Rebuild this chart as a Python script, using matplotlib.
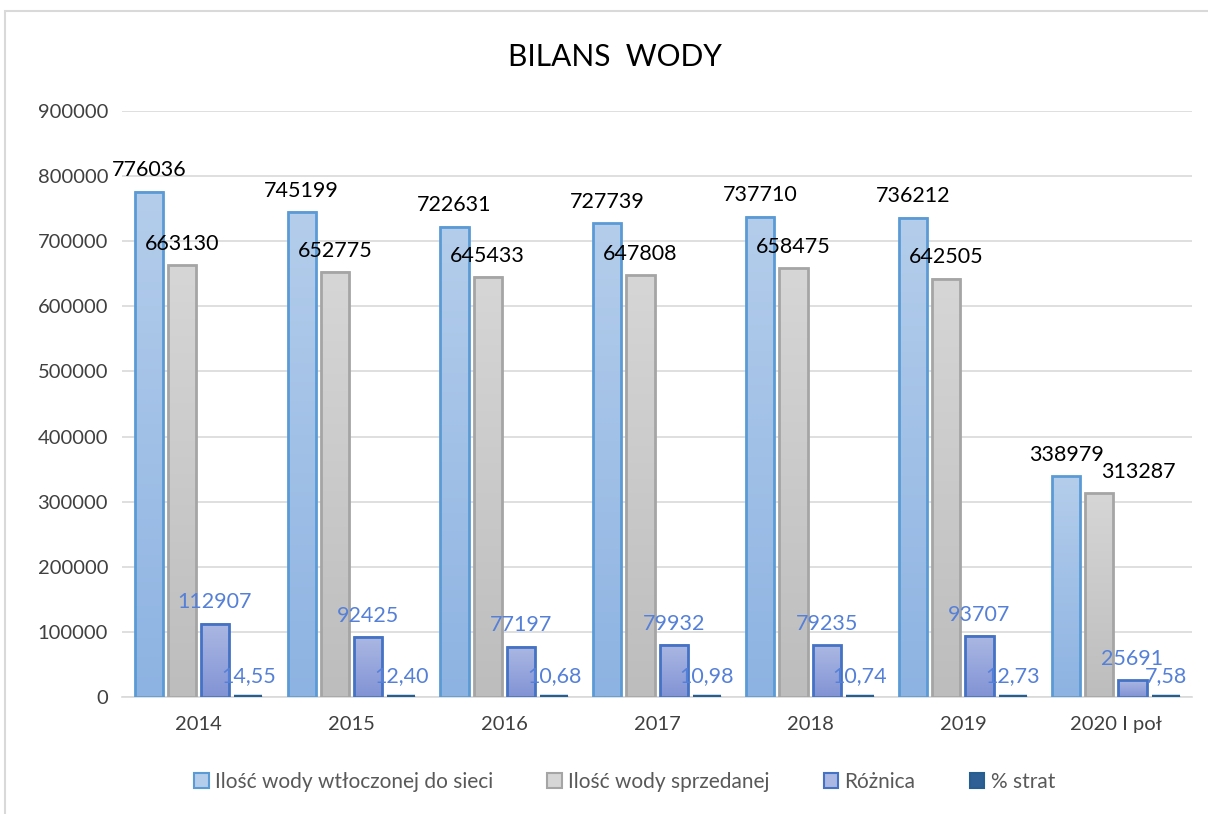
import numpy as np
import matplotlib
matplotlib.use("Agg")
import matplotlib.pyplot as plt
from matplotlib.colors import LinearSegmentedColormap
from matplotlib.patches import Patch, Rectangle

plt.rcParams['font.family'] = ['Lato', 'DejaVu Sans']

categories = ['2014', '2015', '2016', '2017', '2018', '2019', '2020 I poł']
wtloczona = [776036, 745199, 722631, 727739, 737710, 736212, 338979]
sprzedana = [663130, 652775, 645433, 647808, 658475, 642505, 313287]
roznica = [112907, 92425, 77197, 79932, 79235, 93707, 25691]
straty = [14.55, 12.40, 10.68, 10.98, 10.74, 12.73, 7.58]
straty_txt = ['14,55', '12,40', '10,68', '10,98', '10,74', '12,73', '7,58']

series = [
    ('Ilość wody wtłoczonej do sieci', wtloczona, '#B4CDEB', '#8DB3E2', '#5B9BD5', '#000000'),
    ('Ilość wody sprzedanej', sprzedana, '#D6D6D6', '#BDBDBD', '#A5A5A5', '#000000'),
    ('Różnica', roznica, '#ABB8E3', '#8293D5', '#4472C4', '#5580D8'),
    ('% strat', straty, '#5B84B8', '#2E5F95', '#255E91', '#5580D8'),
]

fig = plt.figure(figsize=(12.08, 8.14), dpi=100)
ax = fig.add_axes([0.101, 0.1437, 0.886, 0.7199])

# chart frame (only top/left visible in the reference)
fig.patches.append(Rectangle((5 / 1208, -0.1), 1.2, 1 - 11 / 814 + 0.1, transform=fig.transFigure,
                             fill=False, edgecolor='#D9D9D9', linewidth=1.5))

x = np.arange(len(categories))
step = 0.217
width = 0.184
handles = []
for i, (name, vals, ctop, cbot, edge, lcol) in enumerate(series):
    pos = x + (i - 1.5) * step
    lw = 3.2 if name == '% strat' else 2
    bars = ax.bar(pos, vals, width, facecolor='none', edgecolor=edge, linewidth=lw, zorder=3)
    cmap = LinearSegmentedColormap.from_list('g%d' % i, [cbot, ctop])
    for b in bars:
        bx, bw, bh = b.get_x(), b.get_width(), b.get_height()
        ax.imshow(np.linspace(0, 1, 128).reshape(-1, 1), cmap=cmap, origin='lower',
                  extent=[bx, bx + bw, 0, bh], aspect='auto', zorder=2)
    labels = straty_txt if name == '% strat' else [str(v) for v in vals]
    for j, (p, v, t) in enumerate(zip(pos, vals, labels)):
        dx = 0
        if name == 'Ilość wody sprzedanej' and j == len(vals) - 1:
            dx = 28
        ax.annotate(t, (p, v), xytext=(dx, 11), textcoords='offset points',
                    ha='center', va='baseline', fontsize=15.5, color=lcol, zorder=5)
    handles.append(Patch(facecolor=(ctop if i < 3 else cbot), edgecolor=edge, linewidth=1.5, label=name))

ax.set_xlim(-0.5, len(categories) - 0.5)
ax.set_ylim(0, 900000)
ax.set_yticks(np.arange(0, 900001, 100000))
ax.set_xticks(x)
ax.set_xticklabels(categories)
ax.tick_params(axis='both', length=0, labelsize=14.5, colors='#404040', pad=10)
ax.tick_params(axis='x', pad=14)
ax.grid(axis='y', color='#D9D9D9', linewidth=1.2, zorder=0)
ax.set_axisbelow(True)
for s in ['top', 'right', 'left']:
    ax.spines[s].set_visible(False)
ax.spines['bottom'].set_color('#D9D9D9')
ax.spines['bottom'].set_linewidth(1.2)

fig.text(0.509, 1 - 57 / 814, 'BILANS  WODY', ha='center', va='center', fontsize=21.5, color='#000000')

fig.legend(handles=handles, loc='center', bbox_to_anchor=(0.517, 1 - 782 / 814), ncol=4,
           frameon=False, fontsize=15, labelcolor='#595959', handlelength=0.7, handleheight=0.7,
           handletextpad=0.3, columnspacing=2.6)

fig.savefig('out.png', dpi=100)
